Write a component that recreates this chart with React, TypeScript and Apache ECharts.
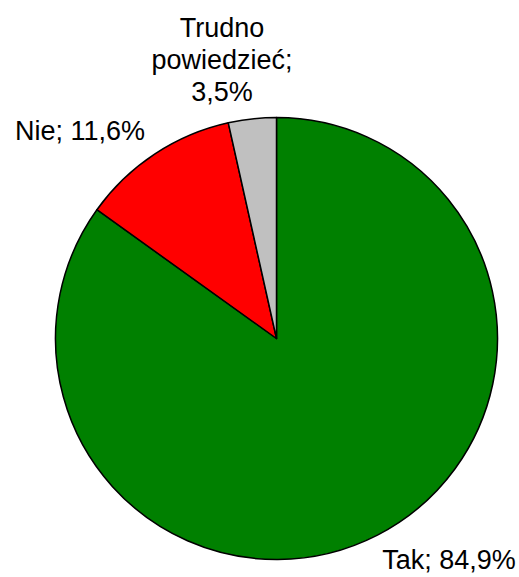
import React, { useEffect, useRef } from "react";
import * as echarts from "echarts";

const categories = ["Tak", "Nie", "Trudno\npowiedzieć"];
const values = [84.9, 11.6, 3.5];
const separators = [" ", " ", "\n"];
const colors = ["#008000", "#FF0000", "#C0C0C0"];
const labelX = [449, 80, 222];
const labelY = [560, 131, 60];

export default function App() {
  const ref = useRef<HTMLDivElement>(null);
  useEffect(() => {
    const chart = echarts.init(ref.current!, null, { renderer: "svg" });
    chart.setOption({
      animation: false,
      backgroundColor: "#ffffff",
      series: [
        {
          type: "pie",
          center: [276.5, 338.5],
          radius: 221,
          startAngle: 90,
          clockwise: true,
          avoidLabelOverlap: false,
          minShowLabelAngle: 0,
          data: categories.map((c, i) => ({
            name: c,
            value: values[i],
            itemStyle: { color: colors[i] },
          })),
          itemStyle: { borderColor: "#000000", borderWidth: 1.5 },
          emphasis: { disabled: true },
          label: {
            show: true,
            position: "outside",
            fontFamily: "Liberation Sans, Arial, sans-serif",
            fontSize: 27,
            lineHeight: 32,
            color: "#000000",
            align: "center",
            formatter: (p: any) =>
              p.name + ";" + separators[p.dataIndex] + p.value.toFixed(1).replace(".", ",") + "%",
          },
          labelLine: { show: false },
          labelLayout: (p: any) => ({
            x: labelX[p.dataIndex],
            y: labelY[p.dataIndex],
            align: "center",
            verticalAlign: "middle",
          }),
        },
      ],
    });
    return () => chart.dispose();
  }, []);
  return (
    <div
      ref={ref}
      style={{ position: "absolute", left: 0, top: 0, width: 519, height: 577 }}
    />
  );
}
